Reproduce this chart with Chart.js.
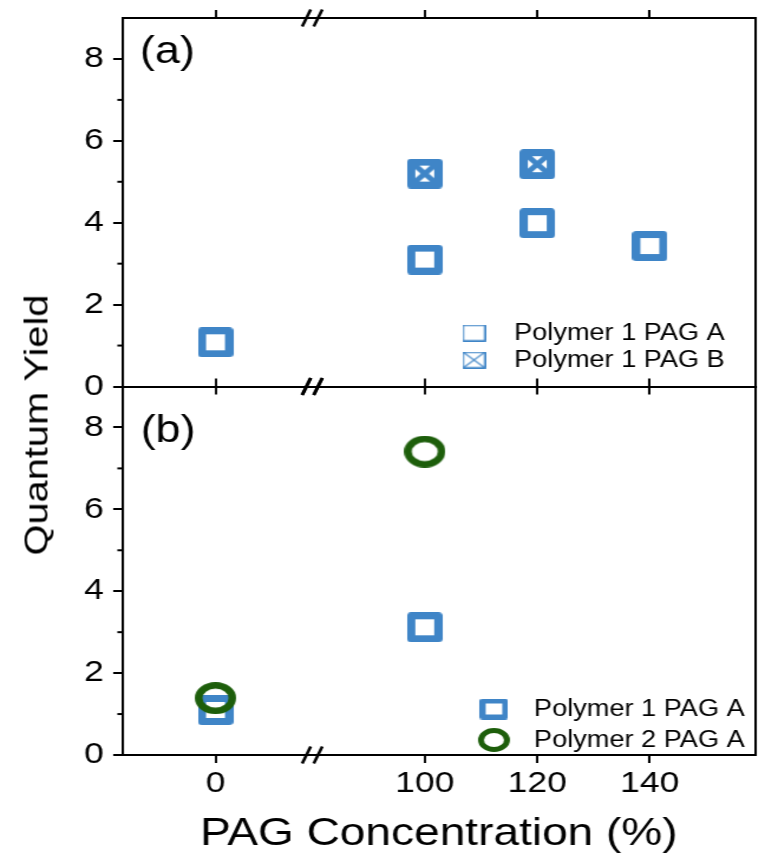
<!DOCTYPE html>
<html>
<head>
<meta charset="utf-8">
<script src="https://cdn.jsdelivr.net/npm/chart.js@4.4.1/dist/chart.umd.min.js"></script>
<style>
  html, body { margin: 0; padding: 0; background: #fff; overflow: hidden; }
  #wrap { position: absolute; left: 0; top: 0; width: 648px; height: 859px;
          transform: scaleX(1.180556); transform-origin: 0 0; }
  #panelA { position: absolute; left: 0; top: 0; }
  #panelB { position: absolute; left: 0; top: 360px; }
  #ytitle { position: absolute; left: 36px; top: 425px; white-space: nowrap;
            font: 34px "Liberation Sans", Arial, sans-serif; color: #000;
            transform: translate(-50%, -50%) rotate(-90deg) scaleX(1.17); }
</style>
</head>
<body>
<div id="wrap">
  <canvas id="panelA" width="648" height="400"></canvas>
  <canvas id="panelB" width="648" height="499"></canvas>
</div>
<div id="ytitle">Quantum Yield</div>
<script>
// data
const xTicks = [0, 100, 120, 140];
const yTicks = [0, 2, 4, 6, 8];
const yMinor = [1, 3, 5, 7];

// panel (a)
const concA_pagA = [0, 100, 120, 140];
const qyA_pagA = [1.08, 3.1, 3.99, 3.43];
const concA_pagB = [100, 120];
const qyA_pagB = [5.2, 5.43];

// panel (b)
const concB_p1 = [0, 100];
const qyB_p1 = [1.1, 3.12];
const concB_p2 = [0, 100];
const qyB_p2 = [1.39, 7.41];

const blue = '#3f85c7';
const green = '#1d5e0b';
const FONT = '"Liberation Sans", Arial, sans-serif';
Chart.defaults.font.family = FONT;
Chart.defaults.color = '#000';

// broken x axis: values below the break are shifted right
const shiftLow = 62.8, breakAt = 80;
const axX = v => v < 50 ? v + shiftLow : v;
const unX = d => d < breakAt ? Math.round(d - shiftLow) : Math.round(d);

function pts(xs, ys) { return xs.map((x, i) => ({ x: axX(x), y: ys[i] })); }

function squareImg(w, h, lw, cross, crossLw) {
  const c = document.createElement('canvas');
  c.width = w; c.height = h;
  const g = c.getContext('2d');
  const r = lw / 2;
  g.strokeStyle = blue;
  g.lineJoin = 'round';
  if (cross) {
    g.save();
    g.beginPath(); g.rect(r, r, w - lw, h - lw); g.clip();
    g.lineWidth = crossLw;
    g.beginPath(); g.moveTo(0, 0); g.lineTo(w, h); g.moveTo(w, 0); g.lineTo(0, h); g.stroke();
    g.restore();
  }
  g.lineWidth = lw;
  g.strokeRect(r, r, w - lw, h - lw);
  return c;
}
function circleImg(w, h, lw) {
  const c = document.createElement('canvas');
  c.width = w; c.height = h;
  const g = c.getContext('2d');
  g.strokeStyle = green; g.lineWidth = lw;
  g.beginPath(); g.ellipse(w / 2, h / 2, w / 2 - lw / 2, h / 2 - lw / 2, 0, 0, Math.PI * 2); g.stroke();
  return c;
}

const decoPlugin = {
  id: 'deco',
  afterDraw(chart, args, o) {
    const ctx = chart.ctx, a = chart.chartArea, y = chart.scales.y, x = chart.scales.x;
    ctx.save();
    ctx.strokeStyle = '#000';
    ctx.lineWidth = 2;
    // minor ticks
    yMinor.forEach(v => {
      const py = y.getPixelForValue(v);
      ctx.beginPath(); ctx.moveTo(a.left - 4.5, py); ctx.lineTo(a.left, py); ctx.stroke();
    });
    // axis break marks
    const bx = x.getPixelForValue(breakAt);
    ctx.lineWidth = 2.6;
    [a.top, a.bottom].forEach(py => {
      [-4.9, 4.9].forEach(dx => {
        ctx.beginPath();
        ctx.moveTo(bx + dx - 3.6, py + 8.5);
        ctx.lineTo(bx + dx + 3.6, py - 8.5);
        ctx.stroke();
      });
    });
    // panel label
    ctx.fillStyle = '#000';
    ctx.font = '38px ' + FONT;
    ctx.textAlign = 'left'; ctx.textBaseline = 'middle';
    ctx.fillText(o.label, o.labelX, o.labelY);
    // legend
    ctx.font = '23px ' + FONT;
    chart.data.datasets.forEach((ds, i) => {
      const ly = o.legY[i];
      const img = ds.legendImg;
      ctx.drawImage(img, o.legMarkX - img.width / 2, ly - img.height / 2);
      ctx.fillText(ds.label, o.legTextX, ly + 1);
    });
    ctx.restore();
  }
};

const noPad = s => { s.paddingTop = 0; s.paddingBottom = 0; s.paddingLeft = 0; s.paddingRight = 0; };

function makePanel(id, datasets, pad, showX, deco) {
  const xAxis = (pos, labels) => ({
    type: 'linear', position: pos, min: 46.3, max: 158.7,
    afterBuildTicks: s => { s.ticks = xTicks.map(v => ({ value: axX(v) })); },
    ticks: { display: labels, callback: v => unX(v), font: { size: 30 }, color: '#000',
             padding: 3, maxRotation: 0, autoSkip: false },
    grid: { drawOnChartArea: false, drawTicks: true, tickLength: 8, lineWidth: 2, color: '#000' },
    border: { display: true, width: 2, color: '#000' },
    title: { display: labels, text: 'PAG Concentration (%)', font: { size: 39 }, color: '#000',
             padding: { top: 0, bottom: 1 } },
    afterFit: s => { s.height = labels ? 104 : 0; noPad(s); }
  });
  return new Chart(document.getElementById(id), {
    type: 'scatter',
    data: { datasets },
    options: {
      responsive: false, animation: false, devicePixelRatio: 1,
      layout: { padding: pad, autoPadding: false },
      plugins: { legend: { display: false }, tooltip: { enabled: false }, deco },
      scales: {
        x: xAxis('bottom', showX),
        xTop: xAxis('top', false),
        y: {
          type: 'linear', position: 'left', min: 0, max: 9,
          afterBuildTicks: s => { s.ticks = yTicks.map(v => ({ value: v })); },
          ticks: { font: { size: 30 }, color: '#000', padding: 8 },
          grid: { drawOnChartArea: false, drawTicks: true, tickLength: 8, lineWidth: 2, color: '#000' },
          border: { display: true, width: 2, color: '#000' },
          afterFit: s => { s.width = 103.9; noPad(s); }
        },
        yR: {
          type: 'linear', position: 'right', min: 0, max: 9,
          ticks: { display: false },
          grid: { drawOnChartArea: false, drawTicks: false },
          border: { display: true, width: 2, color: '#000' },
          afterFit: s => { s.width = 0; noPad(s); }
        }
      }
    },
    plugins: [decoPlugin]
  });
}

makePanel('panelA', [
  { label: 'Polymer 1 PAG A', data: pts(concA_pagA, qyA_pagA), pointStyle: squareImg(30, 30, 7, false),
    pointRadius: 15, legendImg: squareImg(20, 17, 1.5, false) },
  { label: 'Polymer 1 PAG B', data: pts(concA_pagB, qyA_pagB), pointStyle: squareImg(30, 30, 7, true, 5),
    pointRadius: 15, legendImg: squareImg(20, 17, 1.5, true, 1.3) }
], { top: 18, bottom: 13.5, left: 0, right: 8.5 }, false,
  { label: '(a)', labelX: 118.6, labelY: 52.5, legMarkX: 401.5, legTextX: 435.4, legY: [333, 360] });

makePanel('panelB', [
  { label: 'Polymer 1 PAG A', data: pts(concB_p1, qyB_p1), pointStyle: squareImg(30, 30, 7, false),
    pointRadius: 15, order: 1, legendImg: squareImg(24, 21, 5, false) },
  { label: 'Polymer 2 PAG A', data: pts(concB_p2, qyB_p2), pointStyle: circleImg(35, 32, 6.5),
    pointRadius: 16, order: 0, legendImg: circleImg(27, 24, 5) }
], { top: 26.5, bottom: 0, left: 0, right: 8.5 }, true,
  { label: '(b)', labelX: 119.2, labelY: 72, legMarkX: 418.4, legTextX: 452.3, legY: [349, 380] });
</script>
</body>
</html>
